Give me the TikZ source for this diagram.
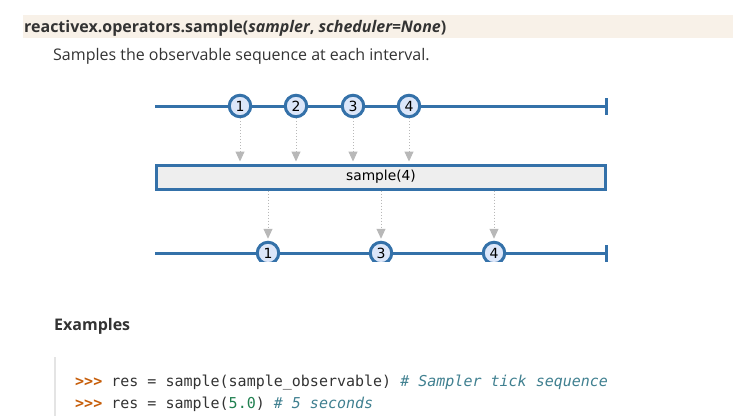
\documentclass[tikz,border=0pt]{standalone}
\usepackage{fontspec}
\setmainfont{Open Sans}
\newfontfamily\dejavu{DejaVu Sans}
\setmonofont{DejaVu Sans Mono}
\usetikzlibrary{arrows.meta}
\definecolor{band}{HTML}{F8F1E8}
\definecolor{mblue}{HTML}{3471A9}
\definecolor{mfill}{HTML}{DCE6F9}
\definecolor{boxfill}{HTML}{EEEEEE}
\definecolor{agray}{HTML}{B8B8B8}
\definecolor{txt}{HTML}{333333}
\definecolor{prompt}{HTML}{C65D09}
\definecolor{numc}{HTML}{208050}
\definecolor{comm}{HTML}{408090}
\definecolor{edge}{HTML}{E4E4E4}
\tikzset{
  timeline/.style={draw=mblue, line width=3pt},
  marble/.style={circle, draw=mblue, fill=mfill, line width=3pt, minimum size=21.5pt, inner sep=0pt, font=\dejavu\fontsize{14}{14}\selectfont, text=black},
  opbox/.style={draw=mblue, fill=boxfill, line width=3pt, minimum width=449pt, minimum height=24pt, inner sep=0pt, font=\dejavu\fontsize{13.8}{14}\selectfont, text=black},
  flow/.style={draw=agray, line width=1pt, dotted, -{Triangle[width=9pt,length=10pt]}, shorten >=2pt},
  txtnode/.style={anchor=base west, inner sep=0pt, text=txt},
}
\begin{document}
\begin{tikzpicture}[x=1pt,y=-1pt]
\useasboundingbox (0,0) rectangle (733,416);
% header band
\fill[band] (23,15) rectangle (733,38);
\node[txtnode, font=\fontsize{16}{18}\selectfont\bfseries] (hdr) at (24,32) {reactivex.operators.sample(\textit{sampler}, \textit{scheduler=None})};
\node[txtnode, font=\fontsize{16}{18}\selectfont] (desc) at (53,60) {Samples the observable sequence at each interval.};
% top timeline
\coordinate (t0) at (155,106);
\coordinate (t1) at (606,106);
\draw[timeline] (t0) -- (t1);
\draw[timeline] ([yshift=-8.5pt]t1) -- ([yshift=8.5pt]t1);
\node[marble] (a1) at (240,106) {1};
\node[marble] (a2) at (296,106) {2};
\node[marble] (a3) at (353,106) {3};
\node[marble] (a4) at (409,106) {4};
% operator box
\node[opbox] (op) at (381,177) {sample(4)};
\foreach \i in {1,2,3,4} \draw[flow] (a\i.south) -- (a\i.south |- op.north);
% bottom timeline (clipped)
\begin{scope}
\clip (0,0) rectangle (733,261);
\coordinate (u0) at (155,253);
\coordinate (u1) at (606,253);
\draw[timeline] (u0) -- (u1);
\draw[timeline] ([yshift=-8.5pt]u1) -- ([yshift=8.5pt]u1);
\node[marble] (b1) at (268,253) {1};
\node[marble] (b3) at (381,253) {3};
\node[marble] (b4) at (494,253) {4};
\end{scope}
\foreach \i in {1,3,4} \draw[flow] (op.south -| b\i) -- (b\i.north);
% examples
\node[txtnode, font=\fontsize{16}{18}\selectfont\bfseries] (ex) at (54,330) {Examples};
\coordinate (e0) at (55,357);
\coordinate (e1) at (55,416);
\draw[edge, line width=2pt] (e0) -- (e1);
\node[txtnode, font=\ttfamily\fontsize{15}{18}\selectfont] (c1) at (75,386) {\textcolor{prompt}{\bfseries >{}>{}>} res = sample(sample\_observable) \textcolor{comm}{\itshape \# Sampler tick sequence}};
\node[txtnode, font=\ttfamily\fontsize{15}{18}\selectfont] (c2) at (75,408) {\textcolor{prompt}{\bfseries >{}>{}>} res = sample(\textcolor{numc}{5.0}) \textcolor{comm}{\itshape \# 5 seconds}};
\end{tikzpicture}
\end{document}
